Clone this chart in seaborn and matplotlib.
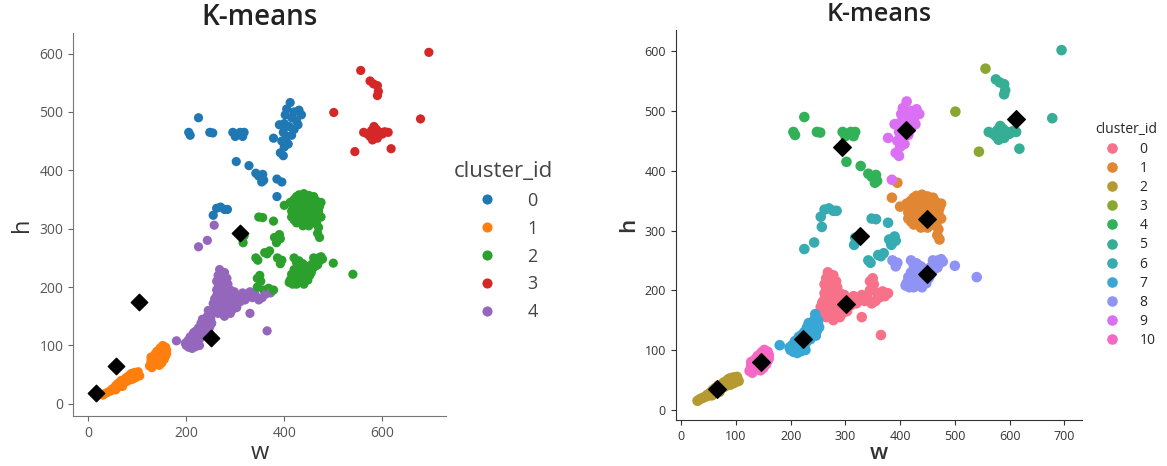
import pandas as pd
import seaborn as sns
import matplotlib.pyplot as plt

# every point as (w, h, cluster in the k=5 run), grouped by its cluster in the k=11 run
k11_0 = [(268, 230, 4), (265, 220, 4), (270, 212, 4), (275, 222, 4), (272, 205, 4), (280, 210, 4),
         (265, 200, 4), (278, 198, 4), (285, 205, 4), (290, 195, 4), (270, 190, 4), (282, 188, 4),
         (262, 185, 4), (275, 180, 4), (290, 182, 4), (295, 175, 4), (300, 185, 4), (260, 175, 4),
         (268, 168, 4), (280, 170, 4), (288, 165, 4), (272, 160, 4), (285, 158, 4), (295, 162, 4),
         (265, 155, 4), (278, 150, 4), (300, 170, 4), (305, 178, 4), (255, 172, 4), (310, 185, 4),
         (270, 175, 4), (258, 162, 4), (283, 215, 4), (262, 210, 4), (268, 215, 4), (276, 215, 4),
         (273, 195, 4), (284, 195, 4), (287, 175, 4), (293, 188, 4), (297, 168, 4), (262, 195, 4),
         (266, 180, 4), (276, 165, 4), (285, 170, 4), (258, 180, 4), (290, 155, 4), (282, 178, 4),
         (303, 165, 4), (298, 192, 4), (278, 225, 4), (266, 162, 4), (310, 175, 4),
         (315, 190, 4), (322, 185, 4), (330, 192, 4), (335, 182, 4), (340, 188, 4), (345, 200, 2),
         (350, 220, 2), (352, 210, 2), (358, 195, 2), (362, 188, 4), (368, 198, 2), (372, 190, 4),
         (378, 195, 2), (355, 182, 4), (320, 178, 4), (330, 155, 4), (365, 125, 4), (345, 215, 2),
         (348, 178, 4)]
k11_1 = [(395, 380, 0), (385, 355, 0), (400, 340, 2), (412, 345, 2), (420, 350, 2), (425, 355, 2),
         (430, 358, 2), (440, 360, 2), (450, 357, 2), (460, 355, 2), (465, 348, 2), (418, 335, 2),
         (428, 340, 2), (435, 345, 2), (445, 348, 2), (455, 342, 2), (468, 338, 2), (422, 325, 2),
         (432, 330, 2), (440, 335, 2), (450, 330, 2), (460, 328, 2), (470, 330, 2), (430, 315, 2),
         (440, 318, 2), (448, 312, 2), (455, 320, 2), (465, 318, 2), (438, 305, 2), (450, 305, 2),
         (460, 310, 2), (470, 302, 2), (468, 292, 2), (472, 285, 2), (425, 310, 2), (445, 325, 2),
         (458, 335, 2), (435, 322, 2), (415, 320, 2), (445, 340, 2), (452, 350, 2), (462, 340, 2),
         (475, 345, 2), (475, 320, 2), (415, 330, 2), (420, 340, 2), (425, 345, 2), (433, 350, 2),
         (438, 352, 2), (443, 355, 2), (448, 345, 2), (453, 335, 2), (458, 325, 2), (463, 333, 2),
         (467, 325, 2), (427, 320, 2), (433, 338, 2), (442, 330, 2), (447, 320, 2), (452, 315, 2),
         (462, 318, 2), (437, 312, 2), (443, 308, 2), (455, 310, 2), (420, 315, 2), (430, 348, 2),
         (472, 338, 2), (466, 310, 2)]
k11_2 = [(30, 15, 1), (35, 18, 1), (45, 22, 1), (52, 27, 1), (55, 30, 1), (60, 28, 1), (65, 33, 1),
         (68, 37, 1), (72, 35, 1), (75, 40, 1), (78, 38, 1), (80, 43, 1), (85, 42, 1), (88, 46, 1),
         (90, 48, 1), (93, 44, 1), (95, 50, 1), (98, 47, 1), (100, 52, 1), (103, 50, 1), (85, 50, 1),
         (92, 53, 1), (70, 30, 1), (62, 36, 1), (48, 25, 1), (58, 33, 1), (82, 40, 1), (96, 54, 1),
         (105, 48, 1), (76, 44, 1), (40, 20, 1), (50, 24, 1), (64, 30, 1), (74, 38, 1), (84, 46, 1),
         (90, 42, 1), (97, 45, 1), (102, 55, 1), (88, 52, 1), (79, 46, 1), (67, 40, 1), (56, 24, 1)]
k11_3 = [(556, 571, 3), (501, 499, 3), (544, 432, 3)]
k11_4 = [(225, 490, 0), (205, 465, 0), (208, 460, 0), (248, 465, 0), (254, 464, 0), (295, 465, 0),
         (300, 458, 0), (305, 462, 0), (310, 465, 0), (315, 458, 0), (318, 465, 0), (302, 415, 0),
         (328, 408, 0), (342, 395, 0), (348, 390, 0), (356, 393, 0), (358, 383, 0), (354, 380, 0)]
k11_5 = [(575, 553, 3), (582, 548, 3), (590, 545, 3), (592, 535, 3), (590, 528, 3), (695, 602, 3),
         (678, 488, 3), (562, 465, 3), (570, 462, 3), (578, 468, 3), (583, 475, 3), (585, 460, 3),
         (590, 455, 3), (580, 452, 3), (595, 465, 3), (600, 462, 3), (605, 466, 3), (612, 465, 3),
         (588, 470, 3), (575, 458, 3), (618, 437, 3)]
k11_6 = [(262, 335, 0), (270, 337, 0), (278, 333, 0), (284, 333, 0), (255, 323, 0), (257, 306, 4),
         (243, 280, 4), (225, 269, 4), (316, 276, 2), (318, 288, 2), (348, 320, 2), (356, 319, 2),
         (378, 313, 2), (380, 285, 2), (386, 280, 2), (392, 283, 2), (390, 290, 2), (384, 276, 2),
         (342, 250, 2), (346, 246, 2), (360, 259, 2), (365, 257, 2), (370, 262, 2)]
k11_7 = [(180, 108, 4), (200, 100, 4), (205, 97, 4), (210, 103, 4), (203, 108, 4), (212, 112, 4),
         (215, 100, 4), (218, 108, 4), (220, 115, 4), (222, 105, 4), (225, 120, 4), (228, 112, 4),
         (230, 125, 4), (232, 118, 4), (235, 130, 4), (238, 122, 4), (240, 135, 4), (242, 128, 4),
         (245, 140, 4), (248, 132, 4), (250, 145, 4), (238, 145, 4), (230, 138, 4), (225, 130, 4),
         (215, 122, 4), (208, 115, 4), (245, 160, 4), (252, 138, 4), (243, 150, 4), (235, 140, 4),
         (220, 125, 4), (212, 95, 4), (227, 100, 4), (198, 104, 4), (206, 110, 4), (214, 106, 4),
         (217, 118, 4), (223, 110, 4), (226, 124, 4), (233, 128, 4), (236, 118, 4), (241, 130, 4),
         (244, 135, 4), (247, 148, 4), (239, 140, 4), (229, 118, 4), (211, 100, 4), (219, 98, 4),
         (204, 102, 4), (250, 150, 4), (233, 145, 4), (246, 124, 4)]
k11_8 = [(386, 250, 2), (395, 246, 2), (392, 240, 2), (420, 250, 2), (425, 242, 2), (430, 235, 2),
         (418, 215, 2), (410, 208, 2), (415, 222, 2), (428, 225, 2), (435, 215, 2), (440, 228, 2),
         (445, 220, 2), (450, 230, 2), (455, 238, 2), (460, 242, 2), (465, 245, 2), (470, 250, 2),
         (475, 252, 2), (440, 205, 2), (425, 205, 2), (432, 210, 2), (448, 212, 2), (455, 225, 2),
         (462, 235, 2), (438, 240, 2), (500, 241, 2), (540, 222, 2), (420, 230, 2), (468, 238, 2),
         (412, 212, 2), (422, 220, 2), (433, 222, 2), (442, 215, 2), (452, 220, 2), (458, 232, 2),
         (466, 240, 2), (472, 245, 2), (426, 232, 2), (436, 230, 2), (446, 235, 2), (430, 245, 2),
         (417, 205, 2), (460, 250, 2), (478, 248, 2)]
k11_9 = [(412, 516, 0), (405, 505, 0), (420, 500, 0), (430, 503, 0), (435, 495, 0), (415, 490, 0),
         (425, 485, 0), (400, 480, 0), (410, 475, 0), (420, 470, 0), (390, 478, 0), (398, 465, 0),
         (405, 458, 0), (415, 460, 0), (395, 450, 0), (400, 440, 0), (408, 445, 0), (392, 430, 0),
         (398, 425, 0), (378, 455, 0), (385, 385, 0), (402, 495, 0), (428, 478, 0)]
k11_10 = [(125, 65, 1), (130, 62, 1), (132, 70, 1), (135, 75, 1), (138, 68, 1), (140, 80, 1),
          (142, 72, 1), (145, 85, 1), (148, 78, 1), (150, 90, 1), (152, 95, 1), (155, 88, 1),
          (158, 97, 1), (160, 92, 1), (136, 85, 1), (128, 74, 1), (145, 66, 1), (155, 76, 1),
          (150, 70, 1), (140, 90, 1), (133, 80, 1), (147, 96, 1), (158, 82, 1), (128, 68, 1),
          (134, 72, 1), (143, 76, 1), (148, 86, 1), (152, 82, 1), (156, 92, 1), (138, 76, 1),
          (144, 92, 1), (152, 100, 1), (128, 80, 1), (160, 86, 1)]

# centroids drawn as black diamonds
cent5_w = [16, 56, 103, 250, 310]
cent5_h = [19, 65, 175, 112, 292]
cent11_w = [65, 145, 223, 302, 326, 293, 411, 450, 450, 611]
cent11_h = [35, 80, 118, 177, 291, 440, 469, 319, 227, 486]

groups = [k11_0, k11_1, k11_2, k11_3, k11_4, k11_5, k11_6, k11_7, k11_8, k11_9, k11_10]
rows = []
for cid, pts in enumerate(groups):
    for w, h, c5 in pts:
        rows.append((w, h, str(c5), str(cid)))
df = pd.DataFrame(rows, columns=['w', 'h', 'k5', 'k11'])

sns.set_style("ticks")
plt.rcParams['font.family'] = ['Open Sans', 'DejaVu Sans']

fig = plt.figure(figsize=(11.67, 4.66), dpi=100)
ax1 = fig.add_axes([0.0626, 0.107, 0.32, 0.822])
ax2 = fig.add_axes([0.579, 0.099, 0.348, 0.837])

# left: k = 5
sns.scatterplot(data=df, x='w', y='h', hue='k5', hue_order=[str(i) for i in range(5)],
                palette=sns.color_palette('tab10', 5), s=44, linewidth=0, ax=ax1)
ax1.scatter(cent5_w, cent5_h, marker='D', s=70, color='black', zorder=5)
ax1.set_xlim(-31, 731)
ax1.set_ylim(-21, 635)
ax1.set_xticks([0, 200, 400, 600])
ax1.set_yticks([0, 100, 200, 300, 400, 500, 600])
ax1.tick_params(labelsize=10, colors='#666666', labelcolor='#555555')
ax1.set_xlabel('w', fontsize=17, color='#333333', labelpad=0)
ax1.set_ylabel('h', fontsize=17, color='#333333')
ax1.set_title('K-means', fontsize=20, fontweight='semibold', color='#222222')
for sp in ax1.spines.values():
    sp.set_color('#777777')
sns.despine(ax=ax1)
sns.move_legend(ax1, 'upper left', bbox_to_anchor=(0.375, 0.69), bbox_transform=fig.transFigure,
                title='cluster_id', frameon=False, fontsize=13, title_fontsize=16,
                labelspacing=0.55, handletextpad=1.2, markerscale=1.1)
leg1 = ax1.get_legend()
leg1.get_title().set_color('#444444')
for t in leg1.get_texts():
    t.set_color('#444444')

# right: k = 11
sns.scatterplot(data=df, x='w', y='h', hue='k11', hue_order=[str(i) for i in range(11)],
                palette=sns.color_palette('husl', 11), s=58, linewidth=0, ax=ax2)
ax2.scatter(cent11_w, cent11_h, marker='D', s=80, color='black', zorder=5)
ax2.set_xlim(-10, 732)
ax2.set_ylim(-17, 636)
ax2.set_xticks(range(0, 701, 100))
ax2.set_yticks(range(0, 601, 100))
ax2.tick_params(labelsize=9, colors='#333333')
ax2.set_xlabel('w', fontsize=16, fontweight='semibold', color='#333333', labelpad=0)
ax2.set_ylabel('h', fontsize=16, fontweight='semibold', color='#333333')
ax2.set_title('K-means', fontsize=18, fontweight='semibold', color='#222222')
for sp in ax2.spines.values():
    sp.set_color('#333333')
sns.despine(ax=ax2)
sns.move_legend(ax2, 'upper left', bbox_to_anchor=(0.928, 0.764), bbox_transform=fig.transFigure,
                title='cluster_id', frameon=False, fontsize=10, title_fontsize=10,
                labelspacing=0.3, handletextpad=1.0)

fig.savefig('out.png', dpi=100)
